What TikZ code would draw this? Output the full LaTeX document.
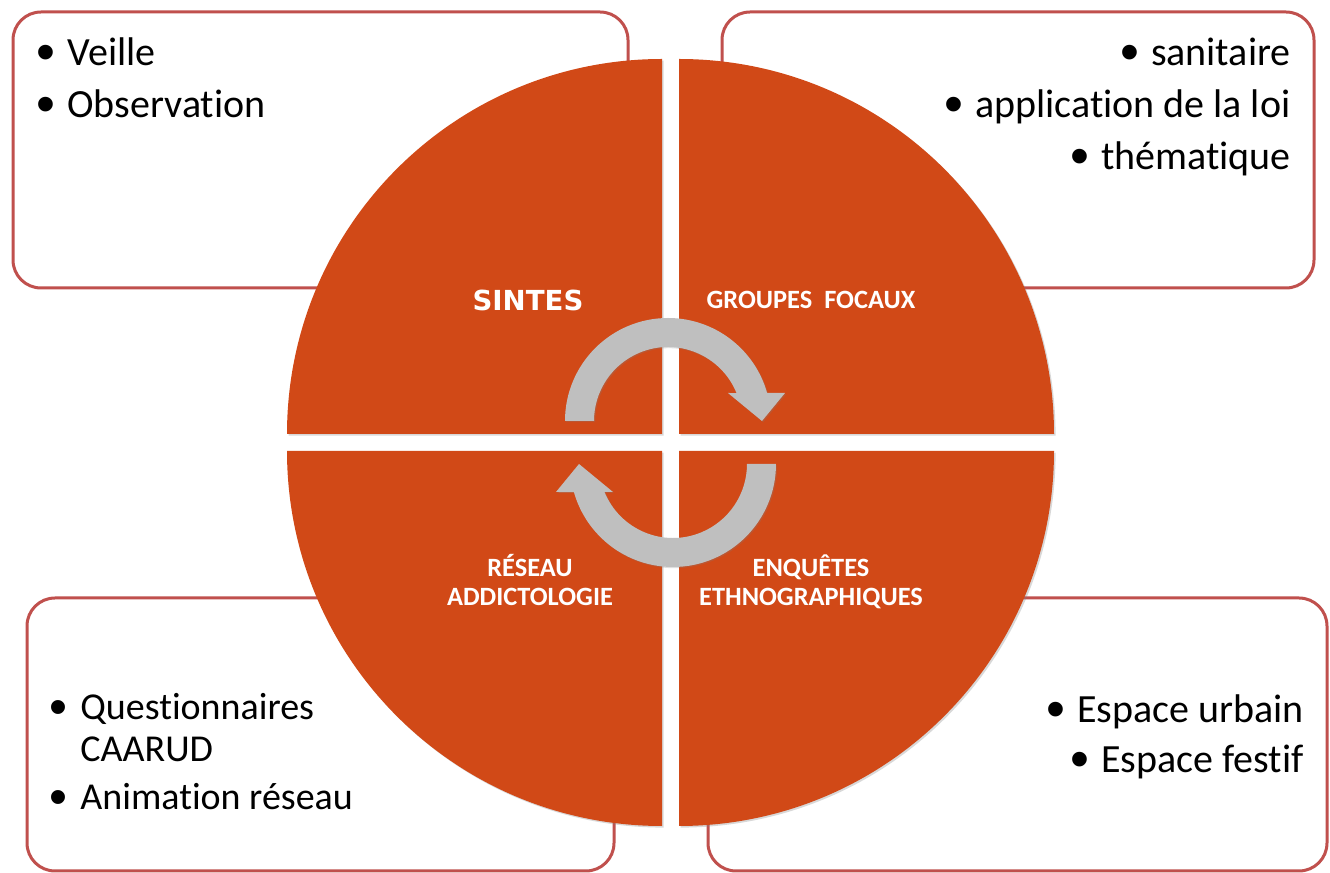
\documentclass[tikz,border=0pt]{standalone}
\usepackage{graphicx}
\usepackage{fontspec}
\setmainfont{Carlito}[Ligatures=NoCommon]
\newfontfamily\titlefont{DejaVu Sans}
\newfontfamily\bulletfont{Liberation Sans}
\usetikzlibrary{shadows}

\definecolor{quadorange}{RGB}{209,73,23}
\definecolor{boxred}{RGB}{192,80,77}
\definecolor{arrowgray}{RGB}{191,191,191}

\newcommand\itembullet{\makebox[14pt][l]{\hspace{-1.5pt}\raisebox{-2.5pt}[0pt][0pt]{\scalebox{1.35}{\bulletfont\textbullet}}}}

\begin{document}
\begin{tikzpicture}[x=0.5pt, y=0.5pt,
					infobox/.style = {draw=boxred, line width=1.5pt, rounded corners=14pt, fill=white},
					quadrant/.style = {fill=quadorange, drop shadow={shadow xshift=0.8pt, shadow yshift=-0.8pt, opacity=0.3}},
					cyclearrow/.style = {fill=arrowgray, drop shadow={shadow xshift=0.6pt, shadow yshift=-0.6pt, opacity=0.25}},
					item/.style = {font=\fontsize{20}{24}\selectfont, inner sep=0pt},
					quadlabel/.style = {text=white, font=\fontsize{13.2}{14.5}\selectfont\bfseries, align=center, inner sep=0pt}
				]

				\path[use as bounding box, fill=white] (0,0) rectangle (1330,873);

				% boxes behind the disc
				\draw[infobox] (13,585) rectangle (628,861);
				\draw[infobox] (722,585) rectangle (1314,861);
				\draw[infobox] (27,2) rectangle (614,275);
				\draw[infobox] (708,2) rectangle (1327,275);

				% four quarters
				\foreach \sx/\sy/\a in {-1/1/90, 1/1/0, -1/-1/180, 1/-1/270}
					\fill[quadrant] (670.5+8.5*\sx, 430.5+8.5*\sy) -- ++(\a:375)
					arc[start angle=\a, delta angle=90, radius=375] -- cycle;

				% circular arrows
				\def\arrowshape{
					(180:103) arc[start angle=180, end angle=15.8, radius=103]
					-- (117,28) -- (94,0) -- (60,28)
					-- (22.2:74) arc[start angle=22.2, end angle=180, radius=74] -- cycle
				}
				\fill[cyclearrow, shift={(668,452)}] \arrowshape;
				\fill[cyclearrow, shift={(673,409)}, rotate=180] \arrowshape;

				% labels of the quarters
				\node[quadlabel, font=\titlefont\fontsize{13.8}{15}\selectfont\bfseries, anchor=base] (sintes) at (528,562) {SINTES};
				\node[quadlabel, anchor=base] (focaux) at (811,564) {GROUPES\ \ FOCAUX};
				\node[quadlabel, anchor=base] (reseau) at (530,267) {RÉSEAU\\ADDICTOLOGIE};
				\node[quadlabel, anchor=base] (enquetes) at (811,267) {ENQUÊTES\\ETHNOGRAPHIQUES};

				% items
				\node[item, anchor=base west] (veille) at (39,807) {\itembullet Veille};
				\node[item, anchor=base west] (observation) at (39,755) {\itembullet Observation};
				\node[item, anchor=base east] (sanitaire) at (1291,807) {\itembullet sanitaire};
				\node[item, anchor=base east] (loi) at (1291,755) {\itembullet application de la loi};
				\node[item, anchor=base east] (thematique) at (1291,703) {\itembullet thématique};
				\node[item, font=\fontsize{19}{23}\selectfont, anchor=base west] (questionnaires) at (52,153) {\itembullet Questionnaires};
				\node[item, font=\fontsize{19}{23}\selectfont, anchor=base west] (caarud) at (80,111) {CAARUD};
				\node[item, font=\fontsize{19}{23}\selectfont, anchor=base west] (animation) at (52,63) {\itembullet Animation réseau};
				\node[item, anchor=base east] (urbain) at (1304,150) {\itembullet Espace urbain};
				\node[item, anchor=base east] (festif) at (1304,100) {\itembullet Espace festif};
			\end{tikzpicture}
\end{document}
